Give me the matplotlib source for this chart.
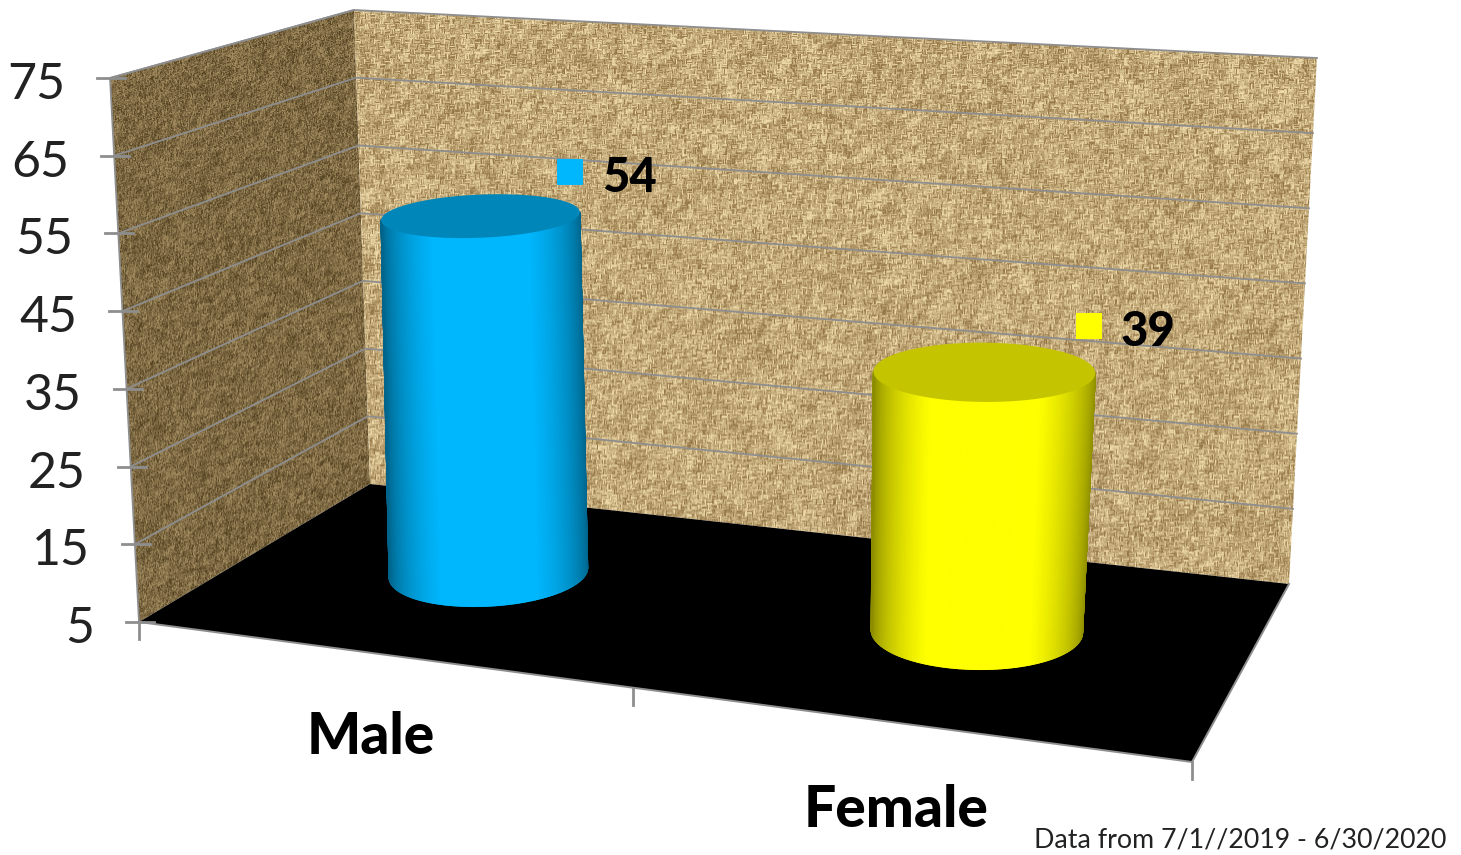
import numpy as np
import matplotlib
matplotlib.use('Agg')
import matplotlib.pyplot as plt
from matplotlib.patches import Polygon
from matplotlib.collections import PolyCollection

WIDTH, HEIGHT = 1461, 855

# chart values
categories = ['Male', 'Female']
values = [54, 39]
tick_values = [5, 15, 25, 35, 45, 55, 65, 75]
footer = 'Data from 7/1//2019 - 6/30/2020'

# box corners on the canvas: front-left, front-right, back-right, back-left
FLOOR_PTS = [(139, 622), (1192, 762), (1289, 584), (370, 484)]
TOP_PTS = [(110, 78), (1205, 158), (1317, 58), (354, 10)]
V_MIN, V_MAX = tick_values[0], tick_values[-1]

# cylinder placement in box units and looks
CAT_U = [0.25, 0.75]
CAT_W = 0.52
RADIUS_U = 0.097
RADIUS_W = 0.22
CAP_DX = 14
CAP_DY = 7
BRIGHT = [(0, 182, 252), (255, 255, 0)]
CAPS = ['#0086b8', '#c4c400']
LABEL_DX = [90, 105]
LABEL_DY = [-43, -45]

GRID = '#8e8e8e'
FONT = 'Lato'


def square_to_quad(pts):
    (x0, y0), (x1, y1), (x2, y2), (x3, y3) = pts
    dx1, dx2, sx = x1 - x2, x3 - x2, x0 - x1 + x2 - x3
    dy1, dy2, sy = y1 - y2, y3 - y2, y0 - y1 + y2 - y3
    den = dx1 * dy2 - dx2 * dy1
    g = (sx * dy2 - dx2 * sy) / den
    h = (dx1 * sy - sx * dy1) / den
    return (x1 - x0 + g * x1, x3 - x0 + h * x3, x0,
            y1 - y0 + g * y1, y3 - y0 + h * y3, y0, g, h)


FLOOR_H = square_to_quad(FLOOR_PTS)
TOP_H = square_to_quad(TOP_PTS)


def apply_h(m, u, w):
    a, b, c, d, e, f, g, h = m
    den = g * u + h * w + 1
    return (a * u + b * w + c) / den, (d * u + e * w + f) / den


def project(u, w, value):
    frac = (value - V_MIN) / (V_MAX - V_MIN)
    xb, yb = apply_h(FLOOR_H, u, w)
    xt, yt = apply_h(TOP_H, u, w)
    return xb + frac * (xt - xb), yb + frac * (yt - yb)


def ring(u, value):
    t = np.linspace(0, 2 * np.pi, 1441)[:-1]
    x, y = project(u + RADIUS_U * np.cos(t), CAT_W - RADIUS_W * np.sin(t), value)
    if value != V_MIN:
        x, y = x + CAP_DX, y + CAP_DY
    return x, y


def front_arc(x, y, n=240):
    # walk the ring from its rightmost point to its leftmost one through the front
    start, stop = int(np.argmax(x)), int(np.argmin(x))
    if stop < start:
        stop += len(x)
    idx = np.arange(start, stop + 1) % len(x)
    pick = idx[np.linspace(0, len(idx) - 1, n + 1).astype(int)]
    return x[pick], y[pick]


def box_blur(a, n, axis):
    out = np.zeros_like(a)
    for k in range(n):
        out += np.roll(a, k, axis=axis)
    return out / n


def make_tile(size=512, cell=5):
    rng = np.random.default_rng(7)
    noise = rng.normal(size=(size, size))
    yy, xx = np.mgrid[0:size, 0:size]
    checker = ((xx // cell + yy // cell) % 2).astype(bool)
    weave = np.where(checker, box_blur(noise, cell + 2, 1), box_blur(noise, cell + 2, 0))
    blotch = rng.normal(size=(size, size))
    for _ in range(3):
        blotch = box_blur(box_blur(blotch, 9, 0), 9, 1)
    weave = weave / weave.std() + 0.18 * blotch / blotch.std()
    return weave / weave.std()


def texture(tile, sx, sy, shear, low, high):
    yy, xx = np.mgrid[0:HEIGHT, 0:WIDTH]
    rows = ((yy + shear * xx) * sy).astype(int) % tile.shape[0]
    cols = (xx * sx).astype(int) % tile.shape[1]
    t = np.clip(tile[rows, cols] * 0.28 + 0.5, 0, 1)[..., None]
    return (np.array(low) + t * (np.array(high) - np.array(low))) / 255.0


fig = plt.figure(figsize=(WIDTH / 100, HEIGHT / 100), dpi=100)
ax = fig.add_axes([0, 0, 1, 1])

tile = make_tile()
back_tex = texture(tile, 1.0, 1.0, 0.0, (150, 120, 72), (238, 218, 170))
left_tex = texture(tile, 1.6, 1.8, 0.33, (85, 68, 35), (165, 142, 98))

left_wall = [project(0, 0, V_MIN), project(0, 1, V_MIN), project(0, 1, V_MAX), project(0, 0, V_MAX)]
back_wall = [project(0, 1, V_MIN), project(1, 1, V_MIN), project(1, 1, V_MAX), project(0, 1, V_MAX)]

for tex, corners in ((left_tex, left_wall), (back_tex, back_wall)):
    im = ax.imshow(tex, extent=(0, WIDTH, HEIGHT, 0), aspect='auto', interpolation='bilinear', zorder=1)
    im.set_clip_path(Polygon(corners, transform=ax.transData))

ax.add_patch(Polygon(FLOOR_PTS, closed=True, facecolor='black', edgecolor='none', zorder=2))

# front and side edges of the floor
for a, b in ((FLOOR_PTS[0], FLOOR_PTS[1]), (FLOOR_PTS[1], FLOOR_PTS[2])):
    ax.plot([a[0], b[0]], [a[1], b[1]], color=GRID, lw=1.4, zorder=2.5)

# gridlines and value ticks
for v in tick_values:
    x0, y0 = project(0, 0, v)
    x1, y1 = project(0, 1, v)
    x2, y2 = project(1, 1, v)
    if v != V_MIN:
        ax.plot([x0, x1, x2], [y0, y1, y2], color=GRID, lw=1.3, zorder=3)
    ax.plot([x0 - 13, x0 + 15], [y0, y0], color=GRID, lw=2, zorder=3)
    ax.text(x0 - 45, y0 + 7, str(v), ha='right', va='center', fontsize=36,
            family=FONT, color='#222222', zorder=6)

# wall edges
for a, b in ((left_wall[0], left_wall[3]), (left_wall[3], back_wall[3])):
    ax.plot([a[0], b[0]], [a[1], b[1]], color=GRID, lw=1.3, zorder=3)

# category ticks along the front edge
for u in (0, 0.505, 1):
    x, y = apply_h(FLOOR_H, u, 0)
    ax.plot([x, x], [y, y + 17], color=GRID, lw=2, zorder=3)

# cylinders
for u, value, rgb, cap in zip(CAT_U, values, BRIGHT, CAPS):
    bx, by = front_arc(*ring(u, V_MIN))
    cx, cy = ring(u, value)
    tx, ty = front_arc(cx, cy)
    n = len(bx) - 1
    strips, colors = [], []
    for i in range(n):
        strips.append([(bx[i], by[i]), (bx[i + 1], by[i + 1]), (tx[i + 1], ty[i + 1]), (tx[i], ty[i])])
        shade = min(1.0, 0.55 + 0.55 * np.sin(np.pi * (i + 0.5) / n) ** 1.5)
        colors.append(tuple(c / 255.0 * shade for c in rgb))
    ax.add_collection(PolyCollection(strips, facecolors=colors, edgecolors=colors, linewidths=1.0, zorder=4))
    ax.fill(cx, cy, color=cap, lw=0, zorder=5)

# data labels with their colour keys
for u, value, rgb, dx, dy in zip(CAT_U, values, BRIGHT, LABEL_DX, LABEL_DY):
    x, y = project(u, CAT_W, value)
    x, y = x + CAP_DX + dx, y + CAP_DY + dy
    ax.scatter([x], [y], marker='s', s=370, color=[c / 255.0 for c in rgb], linewidths=0, zorder=6)
    ax.text(x + 32, y + 6, str(value), ha='left', va='center', fontsize=34,
            family=FONT, weight='black', color='black', zorder=6)

# category names
for name, px, py in zip(categories, [371, 896], [737, 810]):
    ax.text(px, py, name, ha='center', va='center', fontsize=41, family=FONT,
            weight='black', color='black', zorder=6)

ax.text(1446, 840, footer, ha='right', va='center', fontsize=19.3, family=FONT, color='#222222', zorder=6)

ax.set_xlim(0, WIDTH)
ax.set_ylim(HEIGHT, 0)
ax.axis('off')
fig.savefig('out.png', dpi=100, facecolor='white')
